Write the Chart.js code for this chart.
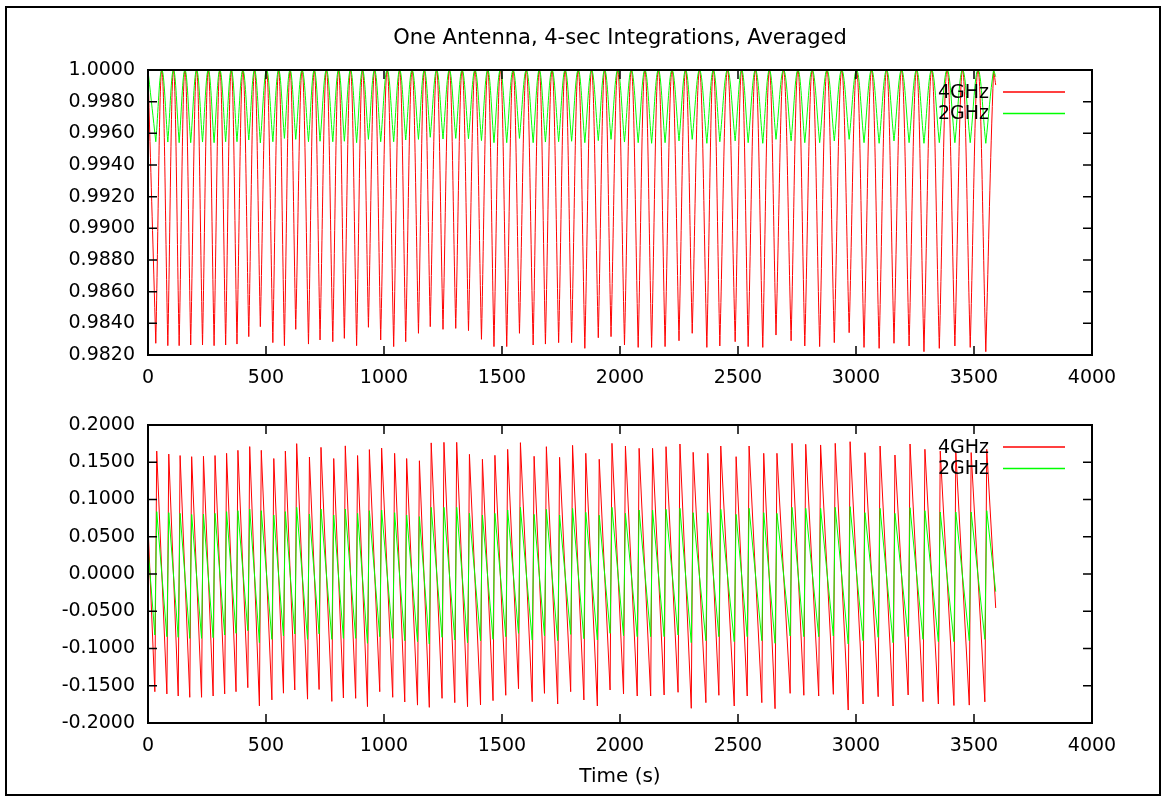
<!DOCTYPE html>
<html>
<head>
<meta charset="utf-8">
<script src="https://cdn.jsdelivr.net/npm/chart.js@4/dist/chart.umd.min.js"></script>
<style>
  html, body { margin: 0; padding: 0; background: #fff; }
  #wrap { position: relative; width: 1166px; height: 801px; overflow: hidden; background: #fff; }
  #frame { position: absolute; left: 5px; top: 6px; width: 1156px; height: 790px; border: 2px solid #000; box-sizing: border-box; }
  canvas { position: absolute; left: 0; }
  #cTop { top: 0; }
  #cBot { top: 400px; }
  .lbl { position: absolute; left: 148px; width: 944px; text-align: center; font-family: 'DejaVu Sans'; color: #000; line-height: 22px; white-space: nowrap; }
  #title { top: 26px; font-size: 21px; }
  #xlabel { top: 764px; font-size: 20px; }
</style>
</head>
<body>
<div id="wrap">
  <div id="frame"></div>
  <canvas id="cTop" width="1166" height="400"></canvas>
  <canvas id="cBot" width="1166" height="401"></canvas>
  <div id="title" class="lbl">One Antenna, 4-sec Integrations, Averaged</div>
  <div id="xlabel" class="lbl">Time (s)</div>
</div>
<script>
// ---------------- data ----------------
const seriesNames = ['4GHz', '2GHz'];
const seriesColors = ['#ff0000', '#00ff00'];

// times (s) of each fringe wrap (dip of the amplitude / jump of the phase)
const cycleTimes = [33, 84, 132, 181, 231, 280, 329, 377, 427, 476, 529, 578, 626, 680, 729, 783, 832, 884, 934, 986,
  1041, 1092, 1146, 1196, 1250, 1304, 1358, 1413, 1466, 1520, 1574, 1632, 1684, 1740, 1795, 1851, 1908, 1962, 2019, 2077,
  2134, 2191, 2250, 2306, 2368, 2423, 2488, 2543, 2605, 2661, 2725, 2783, 2846, 2908, 2971, 3034, 3098, 3161, 3225, 3288,
  3353, 3419, 3484, 3550];

// first and last sample times
const edgeTimes = [2, 3592];
// sample spacing (4-sec integrations)
const sampleStep = 4;

// top panel: amplitude
const ampPeak = 1.0000;
const amp4GHzDip = [0.98274, 0.98259, 0.98259, 0.98263, 0.98263, 0.98259, 0.98263, 0.98269, 0.98316, 0.98379,
  0.98278, 0.98259, 0.98362, 0.98269, 0.98295, 0.98284, 0.98305, 0.98259, 0.98375, 0.98295,
  0.98253, 0.98284, 0.98337, 0.98379, 0.98362, 0.98368, 0.98354, 0.98299, 0.98253, 0.98253,
  0.98337, 0.98263, 0.98269, 0.98278, 0.98278, 0.98242, 0.98309, 0.98316, 0.98263, 0.98248,
  0.98248, 0.98253, 0.98290, 0.98337, 0.98248, 0.98257, 0.98284, 0.98253, 0.98248, 0.98326,
  0.98290, 0.98257, 0.98253, 0.98278, 0.98341, 0.98248, 0.98242, 0.98274, 0.98257, 0.98221,
  0.98242, 0.98257, 0.98248, 0.98221];
const amp2GHzDip = [0.99547, 0.99545, 0.99541, 0.99541, 0.99545, 0.99541, 0.99547, 0.99547, 0.99558, 0.99540,
  0.99547, 0.99568, 0.99562, 0.99547, 0.99550, 0.99547, 0.99550, 0.99541, 0.99562, 0.99547,
  0.99547, 0.99558, 0.99562, 0.99575, 0.99564, 0.99568, 0.99566, 0.99554, 0.99541, 0.99541,
  0.99568, 0.99541, 0.99545, 0.99547, 0.99550, 0.99541, 0.99554, 0.99562, 0.99545, 0.99541,
  0.99537, 0.99541, 0.99552, 0.99562, 0.99537, 0.99547, 0.99552, 0.99541, 0.99537, 0.99562,
  0.99552, 0.99541, 0.99541, 0.99552, 0.99562, 0.99541, 0.99537, 0.99552, 0.99541, 0.99537,
  0.99541, 0.99541, 0.99541, 0.99537];
const amp4GHzEdge = [0.9988, 0.99905];
const amp2GHzEdge = [0.9997, 0.99958];

// bottom panel: phase (value just after the wrap = Hi, just before = Lo)
const phase4GHzHi = [0.165, 0.161, 0.159, 0.1575, 0.158, 0.159, 0.162, 0.166, 0.171, 0.166,
  0.155, 0.165, 0.175, 0.157, 0.170, 0.155, 0.172, 0.159, 0.167, 0.169,
  0.162, 0.155, 0.152, 0.176, 0.1767, 0.1767, 0.1606, 0.154, 0.1593, 0.1673,
  0.1763, 0.158, 0.1709, 0.1566, 0.1727, 0.162, 0.154, 0.1754, 0.1718, 0.1687,
  0.1687, 0.1709, 0.1745, 0.1633, 0.162, 0.1718, 0.1575, 0.1718, 0.162, 0.162,
  0.1754, 0.1741, 0.1732, 0.1754, 0.1776, 0.1628, 0.1718, 0.1597, 0.1745, 0.1674,
  0.165, 0.164, 0.163, 0.1674];
const phase4GHzLo = [-0.158, -0.161, -0.1638, -0.1655, -0.1655, -0.1638, -0.161, -0.158, -0.1526, -0.177,
  -0.169, -0.160, -0.1557, -0.168, -0.155, -0.171, -0.1664, -0.1669, -0.178, -0.158,
  -0.1655, -0.1718, -0.176, -0.179, -0.1669, -0.1727, -0.1781, -0.1758, -0.170, -0.1628,
  -0.154, -0.1714, -0.1602, -0.1745, -0.158, -0.1691, -0.1772, -0.1557, -0.1611, -0.1638,
  -0.1638, -0.1624, -0.1588, -0.1803, -0.1727, -0.1628, -0.1772, -0.1638, -0.1727, -0.1808,
  -0.1602, -0.1628, -0.1638, -0.1615, -0.1826, -0.1745, -0.1647, -0.1772, -0.1624, -0.1714,
  -0.1745, -0.1765, -0.176, -0.1716];
const phase2GHzHi = [0.0837, 0.0823, 0.0814, 0.080, 0.0805, 0.0814, 0.0837, 0.085, 0.0872, 0.085,
  0.0792, 0.0837, 0.0895, 0.0805, 0.0872, 0.0792, 0.0872, 0.0814, 0.085, 0.0859,
  0.0823, 0.0792, 0.077, 0.0895, 0.0895, 0.0895, 0.0814, 0.0792, 0.0814, 0.0859,
  0.0895, 0.080, 0.0868, 0.0792, 0.0882, 0.0828, 0.0788, 0.0895, 0.0814, 0.0859,
  0.0859, 0.0868, 0.0882, 0.0823, 0.0823, 0.0868, 0.080, 0.0882, 0.0823, 0.0814,
  0.0895, 0.0882, 0.0882, 0.0895, 0.0904, 0.0823, 0.0882, 0.0814, 0.089, 0.085,
  0.0832, 0.0832, 0.0832, 0.085];
const phase2GHzLo = [-0.0819, -0.0841, -0.085, -0.0864, -0.0864, -0.0855, -0.0819, -0.0796, -0.0761, -0.0922,
  -0.0877, -0.0832, -0.0805, -0.0877, -0.0805, -0.0877, -0.0864, -0.0864, -0.093, -0.0841,
  -0.0864, -0.0895, -0.0908, -0.094, -0.085, -0.0886, -0.0922, -0.0899, -0.0877, -0.0841,
  -0.0796, -0.0886, -0.0828, -0.0895, -0.081, -0.0868, -0.0886, -0.0796, -0.0828, -0.0841,
  -0.0841, -0.0841, -0.0819, -0.0922, -0.0895, -0.0841, -0.0908, -0.0841, -0.0895, -0.093,
  -0.0832, -0.0841, -0.0841, -0.0832, -0.094, -0.0895, -0.085, -0.0922, -0.0841, -0.0877,
  -0.0908, -0.0908, -0.0895, -0.0877];
const phase4GHzEdge = [0.050, -0.0456];
const phase2GHzEdge = [0.027, -0.0237];

// tick values
const xTickValues = [0, 500, 1000, 1500, 2000, 2500, 3000, 3500, 4000];
const ampTickValues = [0.982, 0.984, 0.986, 0.988, 0.990, 0.992, 0.994, 0.996, 0.998, 1.000];
const phaseTickValues = [-0.2, -0.15, -0.1, -0.05, 0, 0.05, 0.1, 0.15, 0.2];

// ---------------- build point lists ----------------
function buildAmp(dips, edges) {
  const pts = [{ x: edgeTimes[0], y: edges[0] }];
  for (let k = 0; k < cycleTimes.length; k++) {
    const t = cycleTimes[k];
    pts.push({ x: t, y: dips[k] }, { x: t, y: dips[k] });
    const next = k + 1 < cycleTimes.length ? cycleTimes[k + 1] : t + (t - cycleTimes[k - 1]);
    const apex = (t + next) / 2;
    if (apex < edgeTimes[1]) pts.push({ x: apex, y: ampPeak });
  }
  pts.push({ x: edgeTimes[1], y: edges[1] });
  return pts;
}
function buildPhase(hi, lo, edges) {
  const pts = [{ x: edgeTimes[0], y: edges[0] }];
  for (let k = 0; k < cycleTimes.length; k++) {
    const t = cycleTimes[k];
    pts.push({ x: t - sampleStep, y: lo[k] }, { x: t + sampleStep, y: hi[k] });
  }
  pts.push({ x: edgeTimes[1], y: edges[1] });
  return pts;
}

const FONT = { family: "'DejaVu Sans'", size: 19 };
Chart.defaults.font.family = FONT.family;
Chart.defaults.font.size = FONT.size;
Chart.defaults.color = '#000';

// gnuplot-like border with inward ticks on all four sides, plus the key
const gpAxes = {
  id: 'gpAxes',
  afterDatasetsDraw(chart, args, opts) {
    const { ctx, chartArea: a, scales } = chart;
    const xs = scales.x, ys = scales.y;
    const L = 9;
    ctx.save();
    ctx.strokeStyle = '#000';
    ctx.lineWidth = 1.5;
    ctx.beginPath();
    for (const v of xTickValues) {
      const px = xs.getPixelForValue(v);
      ctx.moveTo(px, a.bottom); ctx.lineTo(px, a.bottom - L);
      ctx.moveTo(px, a.top); ctx.lineTo(px, a.top + L);
    }
    for (const v of opts.yTicks) {
      const py = ys.getPixelForValue(v);
      ctx.moveTo(a.left, py); ctx.lineTo(a.left + L, py);
      ctx.moveTo(a.right, py); ctx.lineTo(a.right - L, py);
    }
    ctx.stroke();
    ctx.lineWidth = 2;
    ctx.strokeRect(a.left, a.top, a.right - a.left, a.bottom - a.top);
    // key
    ctx.font = FONT.size + 'px ' + FONT.family;
    ctx.textAlign = 'right';
    ctx.textBaseline = 'middle';
    for (let i = 0; i < seriesNames.length; i++) {
      const y = a.top + 22 + i * 21.5;
      ctx.fillStyle = '#000';
      ctx.fillText(seriesNames[i], 989, y + 1);
      ctx.strokeStyle = seriesColors[i];
      ctx.lineWidth = 1.5;
      ctx.beginPath();
      ctx.moveTo(1003, y);
      ctx.lineTo(1065, y);
      ctx.stroke();
    }
    ctx.restore();
  }
};

function makeChart(canvasId, datasets, yMin, yMax, yTicks, pad, xH) {
  return new Chart(document.getElementById(canvasId), {
    type: 'line',
    data: { datasets },
    options: {
      responsive: false,
      animation: false,
      events: [],
      layout: { padding: { left: 0, right: 74, top: pad, bottom: 0 } },
      plugins: { legend: { display: false }, tooltip: { enabled: false }, title: { display: false }, gpAxes: { yTicks } },
      elements: { point: { radius: 0 } },
      scales: {
        x: {
          type: 'linear', min: 0, max: 4000,
          afterBuildTicks: s => { s.ticks = xTickValues.map(v => ({ value: v })); },
          afterFit: s => { s.height = xH; },
          grid: { display: false, drawTicks: false },
          border: { display: false },
          ticks: { color: '#000', padding: 12, maxRotation: 0, autoSkip: false, callback: v => String(v) }
        },
        y: {
          type: 'linear', min: yMin, max: yMax,
          afterBuildTicks: s => { s.ticks = yTicks.map(v => ({ value: v })); },
          afterFit: s => { s.width = 148; },
          grid: { display: false, drawTicks: false },
          border: { display: false },
          ticks: { color: '#000', padding: 13, autoSkip: false, callback: v => Number(v).toFixed(4) }
        }
      }
    },
    plugins: [gpAxes]
  });
}

makeChart('cTop', [
  { label: seriesNames[0], data: buildAmp(amp4GHzDip, amp4GHzEdge), borderColor: seriesColors[0], borderWidth: 1, tension: 0.4, order: 1 },
  { label: seriesNames[1], data: buildAmp(amp2GHzDip, amp2GHzEdge), borderColor: seriesColors[1], borderWidth: 1, tension: 0.4, order: 0 }
], 0.982, 1.0, ampTickValues, 70, 45);

makeChart('cBot', [
  { label: seriesNames[0], data: buildPhase(phase4GHzHi, phase4GHzLo, phase4GHzEdge), borderColor: seriesColors[0], borderWidth: 1, tension: 0, order: 1 },
  { label: seriesNames[1], data: buildPhase(phase2GHzHi, phase2GHzLo, phase2GHzEdge), borderColor: seriesColors[1], borderWidth: 1, tension: 0, order: 0 }
], -0.2, 0.2, phaseTickValues, 25, 78);
</script>
</body>
</html>
